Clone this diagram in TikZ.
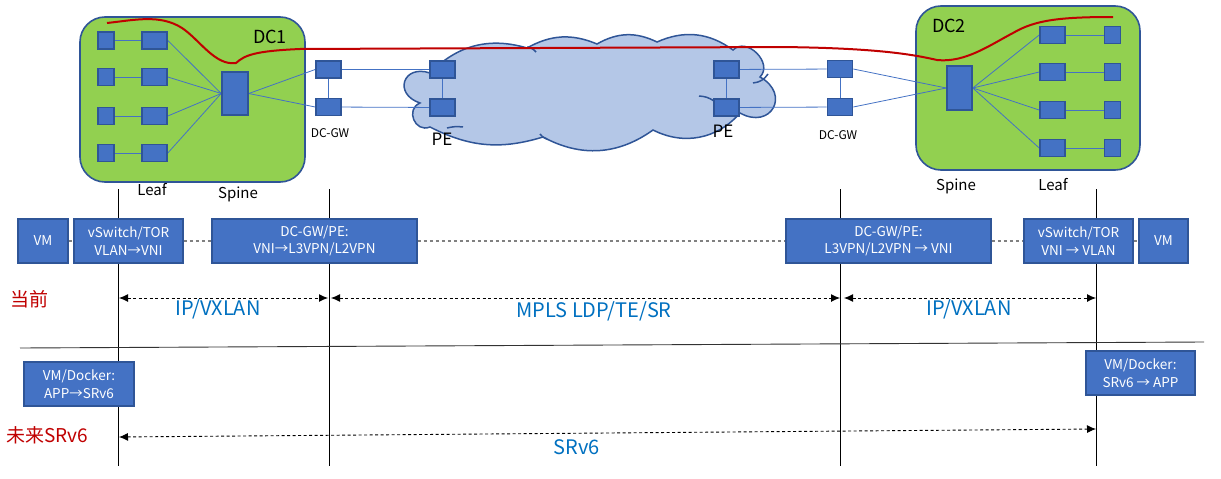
\documentclass[tikz,border=0pt]{standalone}
\usepackage{fontspec}
\setmainfont{Noto Sans CJK SC}
\usetikzlibrary{arrows.meta}
\definecolor{boxblue}{HTML}{4472C4}
\definecolor{bdr}{HTML}{2F5597}
\definecolor{dcgreen}{HTML}{92D050}
\definecolor{cloudfill}{HTML}{B4C7E7}
\definecolor{darkred}{HTML}{C00000}
\definecolor{textblue}{HTML}{0070C0}
\pgfdeclarelayer{back}
\pgfdeclarelayer{links}
\pgfsetlayers{back,links,main}
\begin{document}
\begin{tikzpicture}[x=1pt,y=-1pt,
  dev/.style={draw=bdr, fill=boxblue, line width=1.6pt, inner sep=0pt},
  sq/.style={dev, minimum width=16pt, minimum height=17pt},
  leafbox/.style={dev, minimum width=25pt, minimum height=17pt},
  spinebox/.style={dev, minimum width=26pt, minimum height=43pt},
  dcbox/.style={draw=bdr, fill=dcgreen, line width=1.6pt, rounded corners=25pt, inner sep=0pt},
  link/.style={draw=boxblue, line width=0.8pt},
  lbl/.style={dev, line width=1.5pt, text=white, align=center, font=\fontsize{13.5}{17.5}\selectfont},
  plain/.style={inner sep=0pt, font=\fontsize{15}{18}\selectfont},
  proto/.style={inner sep=0pt, text=textblue, font=\fontsize{20}{24}\selectfont},
  era/.style={inner sep=0pt, text=darkred, font=\fontsize{19}{22}\selectfont},
  vline/.style={draw=black, line width=0.9pt},
  gdash/.style={draw=gray, line width=1.3pt, dash pattern=on 3pt off 3pt},
  darr/.style={draw=black, line width=0.9pt, dash pattern=on 3pt off 2.5pt, {Latex[length=9pt,width=8pt]}-{Latex[length=9pt,width=8pt]}},
  redline/.style={draw=darkred, line width=2pt},
  cloudline/.style={draw=bdr, line width=1.5pt}
]
\useasboundingbox (0,0) rectangle (1221,479);

% ---------- DC boxes and cloud (back layer) ----------
\begin{pgfonlayer}{back}
\node[dcbox, minimum width=225pt, minimum height=165pt] (dc1) at (192.5,99.5) {};
\node[dcbox, minimum width=224pt, minimum height=164pt] (dc2) at (1028,88) {};
\coordinate (j1) at (430,73);
\coordinate (j2) at (527,48);
\coordinate (j3) at (597,44);
\coordinate (j4) at (657,42);
\coordinate (j5) at (733,50);
\coordinate (j6) at (760,77);
\coordinate (j7) at (740,113);
\coordinate (j8) at (653,130);
\coordinate (j9) at (543,137);
\coordinate (j10) at (430,127);
\coordinate (j11) at (420,103);
\draw[cloudline, fill=cloudfill]
  (j1) to[bend left=31] (j2) to[bend left=26] (j3) to[bend left=28] (j4)
  to[bend left=30] (j5) to[bend left=90, looseness=1.3] (j6)
  to[bend left=90, looseness=2.2] (j7) to[bend left=38] (j8)
  to[bend left=32] (j9) to[bend left=22] (j10)
  to[bend left=90, looseness=1.6] (j11) to[bend left=90, looseness=2.3] (j1) -- cycle;
\draw[cloudline] (527,47) to[bend left=20] (536,52);
\draw[cloudline] (753,83) to[bend right=25] (768,74);
\draw[cloudline] (699,96) to[bend left=15] (714,101);
\draw[cloudline] (540,134) to[bend right=20] (547,139);
\draw[cloudline] (447,128) to[bend left=10] (463,127);
\end{pgfonlayer}
\node[plain, font=\fontsize{18}{20}\selectfont] (dc1l) at (270,37) {DC1};
\node[plain, font=\fontsize{18}{20}\selectfont] (dc2l) at (949,26) {DC2};

% ---------- devices ----------
\foreach \i/\y in {1/40.5, 2/77, 3/116, 4/153}{
  \node[sq] (a\i) at (106,\y) {};
  \node[leafbox] (l\i) at (154.5,\y) {};
}
\node[spinebox] (s1) at (235,93.5) {};
\node[leafbox] (g1) at (328.5,69.5) {};
\node[leafbox] (g2) at (328.5,107) {};
\node[leafbox] (p1) at (442.5,69.5) {};
\node[leafbox] (p2) at (442.5,107.5) {};
\node[leafbox] (p3) at (726.5,69.5) {};
\node[leafbox] (p4) at (726.5,107.5) {};
\node[leafbox] (g3) at (840,69) {};
\node[leafbox] (g4) at (840,107) {};
\node[spinebox, minimum width=25pt, minimum height=44pt] (s2) at (959.5,88) {};
\foreach \i/\y in {1/35, 2/72, 3/110, 4/148}{
  \node[leafbox] (m\i) at (1052.5,\y) {};
  \node[sq] (b\i) at (1112.5,\y) {};
}

\begin{pgfonlayer}{links}
\foreach \i in {1,2,3,4}{
  \draw[link] (a\i) -- (l\i);
  \draw[link] (l\i.east) -- (s1.west);
  \draw[link] (s2.east) -- (m\i.west);
  \draw[link] (m\i) -- (b\i);
}
\draw[link] (s1.east) -- (g1.west);
\draw[link] (s1.east) -- (g2.west);
\draw[link] (g1) -- (g2);
\draw[link] (g1) -- (p1);
\draw[link] (g2) -- (p2);
\draw[link] (p1) -- (p2);
\draw[link] (p3) -- (p4);
\draw[link] (p3) -- (g3);
\draw[link] (p4) -- (g4);
\draw[link] (g3) -- (g4);
\draw[link] (g3.east) -- (s2.west);
\draw[link] (g4.east) -- (s2.west);
\end{pgfonlayer}

\node[plain] (leafl) at (152,190) {Leaf};
\node[plain] (spinel) at (238,194) {Spine};
\node[plain] (spine2l) at (956,186) {Spine};
\node[plain] (leaf2l) at (1053,185) {Leaf};
\node[plain, font=\fontsize{12}{14}\selectfont] (gwl1) at (330,133) {DC-GW};
\node[plain, font=\fontsize{12}{14}\selectfont] (gwl2) at (838,135) {DC-GW};
\node[plain, font=\fontsize{17}{20}\selectfont] (pel1) at (442,139) {PE};
\node[plain, font=\fontsize{17}{20}\selectfont] (pel2) at (723,131) {PE};

% ---------- red path ----------
\draw[redline] (107,23) .. controls (135,20) and (160,14) .. (182,28)
  .. controls (200,40) and (215,66) .. (236,63)
  .. controls (245,55) and (255,51) .. (300,49) -- (780,47)
  .. controls (880,48) and (915,55) .. (937,60)
  .. controls (965,63) and (990,45) .. (1013,33)
  .. controls (1035,20) and (1060,17) .. (1113,17);

% ---------- vertical lines (behind boxes) ----------
\begin{pgfonlayer}{links}
\foreach \k/\x in {1/118, 2/329, 3/840, 4/1096}{
  \coordinate (t\k) at (\x,189);
  \coordinate (u\k) at (\x,466);
  \draw[vline] (t\k) -- (u\k);
}
\coordinate (sepL) at (20,348);
\coordinate (sepR) at (1204,342);
\draw[draw=black!80, line width=0.9pt] (sepL) -- (sepR);
\end{pgfonlayer}

% ---------- row of function boxes ----------
\node[lbl, minimum width=50pt, minimum height=44pt] (vm1) at (43,241) {VM};
\node[lbl, minimum width=109pt, minimum height=44pt] (vs1) at (128.5,241) {vSwitch/TOR\\VLAN→VNI};
\node[lbl, minimum width=205pt, minimum height=44pt] (gp1) at (314.5,241) {DC-GW/PE:\\VNI→L3VPN/L2VPN};
\node[lbl, minimum width=205pt, minimum height=44pt] (gp2) at (888.5,241) {DC-GW/PE:\\L3VPN/L2VPN → VNI};
\node[lbl, minimum width=109pt, minimum height=44pt] (vs2) at (1078.5,241) {vSwitch/TOR\\VNI → VLAN};
\node[lbl, minimum width=49pt, minimum height=44pt] (vm2) at (1163.5,241) {VM};
\draw[gdash] (vm1) -- (vs1);
\draw[gdash] (vs1) -- (gp1);
\draw[gdash] (gp1) -- (gp2);
\draw[gdash] (gp2) -- (vs2);
\draw[gdash] (vs2) -- (vm2);

\node[lbl, minimum width=110pt, minimum height=44pt] (dk1) at (79,384) {VM/Docker:\\APP→SRv6};
\node[lbl, minimum width=109pt, minimum height=44pt] (dk2) at (1140.5,373) {VM/Docker:\\SRv6 → APP};

% ---------- current ----------
\node[era] (cur) at (29,299) {当前};
\coordinate (c1) at (119,298);
\coordinate (c2) at (328,298);
\coordinate (c3) at (331,298);
\coordinate (c4) at (840,298);
\coordinate (c5) at (844,298);
\coordinate (c6) at (1096,298);
\draw[darr] (c1) -- (c2);
\draw[darr] (c3) -- (c4);
\draw[darr] (c5) -- (c6);
\node[proto] (pr1) at (218,309) {IP/VXLAN};
\node[proto] (pr2) at (594,311) {MPLS LDP/TE/SR};
\node[proto] (pr3) at (969,309.5) {IP/VXLAN};

% ---------- future ----------
\node[era] (fut) at (47,435) {未来SRv6};
\coordinate (f1) at (119,437);
\coordinate (f2) at (1096,429);
\draw[darr] (f1) -- (f2);
\node[proto] (pr4) at (577,447) {SRv6};
\end{tikzpicture}
\end{document}
